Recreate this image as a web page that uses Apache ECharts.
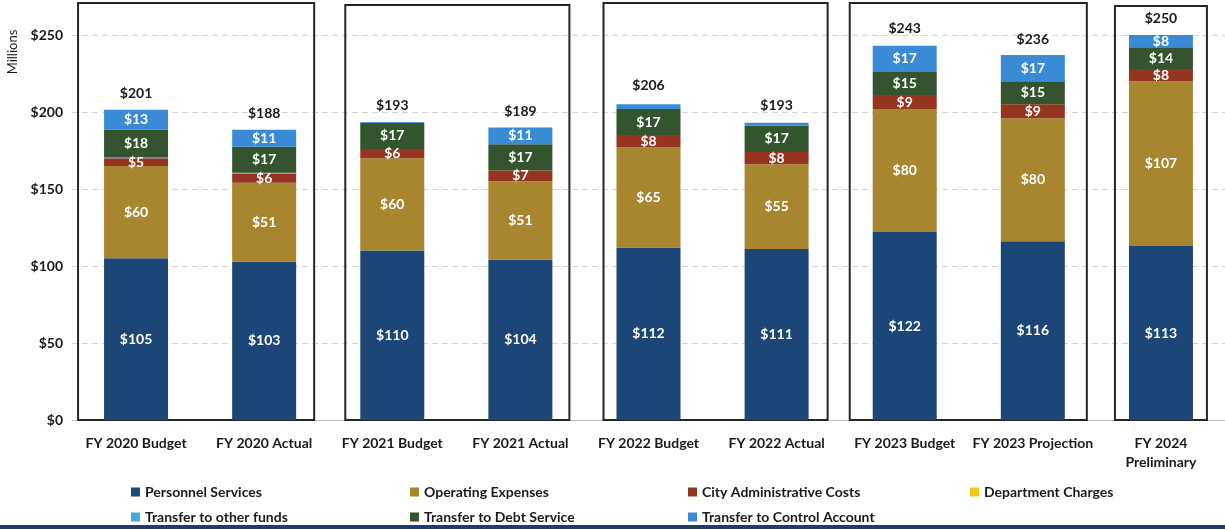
<!DOCTYPE html>
<html>
<head>
<meta charset="utf-8">
<script src="https://cdn.jsdelivr.net/npm/echarts@6/dist/echarts.min.js"></script>
<style>html,body{margin:0;padding:0;background:#fff}#c{width:1225px;height:529px}</style>
</head>
<body>
<div id="c"></div>
<script>
// ---- data ----
const categories = ['FY 2020 Budget','FY 2020 Actual','FY 2021 Budget','FY 2021 Actual','FY 2022 Budget','FY 2022 Actual','FY 2023 Budget','FY 2023 Projection','FY 2024\nPreliminary'];
const seriesNames = ['Personnel Services','Operating Expenses','City Administrative Costs','Department Charges','Transfer to other funds','Transfer to Debt Service','Transfer to Control Account'];
const personnelServices = [105,103,110,104,112,111,122,116,113];
const operatingExpenses = [60,51,60,51,65,55,80,80,107];
const cityAdminCosts = [5,6,6,7,8,8,9,9,8];
const departmentCharges = [0,0,0,0,0,0,0,0,0];
const transferOtherFunds = [0.5,0.5,0,0,0,0,0,0,0];
const transferDebtService = [18,17,17,17,17,17,15,15,14];
const transferControlAccount = [13,11,0.5,11,3,2,17,17,8];
const totals = [201,188,193,189,206,193,243,236,250];
const yTicks = [0,50,100,150,200,250];
const boxGroups = [[0,1],[2,3],[4,5],[6,7],[8,8]];

const FONT = 'Lato, "Open Sans", sans-serif';
const colors = ['#1c4677','#a8852f','#95341f','#f5c518','#45a6e6','#34532f','#3a8bd6'];
const boxStyle = [ // left pad, right pad, top px
  [26,18,3],[15,17,5],[13,19,3],[23,22,3],[14,14,6]
];
const legendPos = [[131,485],[410,485],[688,485],[970,485],[131,510],[410,510],[688,510]];

const chart = echarts.init(document.getElementById('c'), null, {renderer:'canvas'});

function seg(i, data){
  return {
    name:seriesNames[i], type:'bar', stack:'t', data, barWidth:64,
    itemStyle:{color:colors[i]},
    label:{show:true, position:'inside', color:'#fff', fontFamily:FONT, fontWeight:'bold', fontSize:14,
      formatter: p => p.value >= 4 ? '$' + p.value : ''},
    emphasis:{disabled:true}, z:3
  };
}

const option = {
  animation:false,
  backgroundColor:'#fff',
  grid:{left:72, width:1156, top:35, bottom:109, containLabel:false},
  xAxis:{
    type:'category', data:categories,
    axisLine:{show:true, lineStyle:{color:'#bfbfbf', width:1}},
    axisTick:{show:false},
    axisLabel:{color:'#1a1a1a', fontFamily:FONT, fontWeight:'bold', fontSize:14, margin:14, lineHeight:19, interval:0}
  },
  yAxis:{
    type:'value', min:0, max:250, interval:50,
    axisLine:{show:false}, axisTick:{show:false},
    splitLine:{lineStyle:{color:'#d4d4d4', type:[6,4], width:1}},
    axisLabel:{color:'#1a1a1a', fontFamily:FONT, fontWeight:'bold', fontSize:14, margin:9,
      formatter: v => yTicks.includes(v) ? '$' + v : ''}
  },
  legend: seriesNames.map((n, i) => ({
    data:[n], left:legendPos[i][0], top:legendPos[i][1], padding:0,
    itemWidth:9, itemHeight:9, icon:'rect', selectedMode:false,
    textStyle:{color:'#1a1a1a', fontFamily:FONT, fontWeight:'bold', fontSize:14}
  })),
  graphic:[
    {type:'text', x:13, y:52, rotation:Math.PI/2,
      style:{text:'Millions', fill:'#1a1a1a', font:'13px '+FONT, align:'center', verticalAlign:'middle'}},
    {type:'rect', left:0, bottom:0, shape:{width:1225, height:4}, style:{fill:'#1e3d6b'}}
  ],
  series:[
    {
      type:'custom', name:'boxes', coordinateSystem:'cartesian2d',
      data: boxGroups.map(g => [g[0], g[1], 0]),
      encode:{x:[0,1], y:2}, silent:true, z:1, clip:false,
      renderItem:(params, api) => {
        const i = params.dataIndex;
        const s = boxStyle[i];
        const a = api.coord([api.value(0), 0]);
        const b = api.coord([api.value(1), 0]);
        const half = 32;
        const x1 = a[0] - half - s[0];
        const x2 = b[0] + half + s[1];
        return {type:'rect', shape:{x:x1, y:s[2], width:x2-x1, height:a[1]-s[2]},
          style:{fill:'none', stroke:'#262626', lineWidth:2}};
      }
    },
    seg(0, personnelServices),
    seg(1, operatingExpenses),
    seg(2, cityAdminCosts),
    seg(3, departmentCharges),
    seg(4, transferOtherFunds),
    seg(5, transferDebtService),
    seg(6, transferControlAccount),
    {
      type:'scatter', name:'Total', data:totals, symbolSize:2, silent:true,
      itemStyle:{color:'rgba(0,0,0,0)', opacity:1}, z:4, clip:false,
      label:{show:true, position:'top', distance:9, color:'#1a1a1a', fontFamily:FONT, fontWeight:'bold', fontSize:14,
        formatter: p => '$' + p.value}
    }
  ]
};
chart.setOption(option);
</script>
</body>
</html>
